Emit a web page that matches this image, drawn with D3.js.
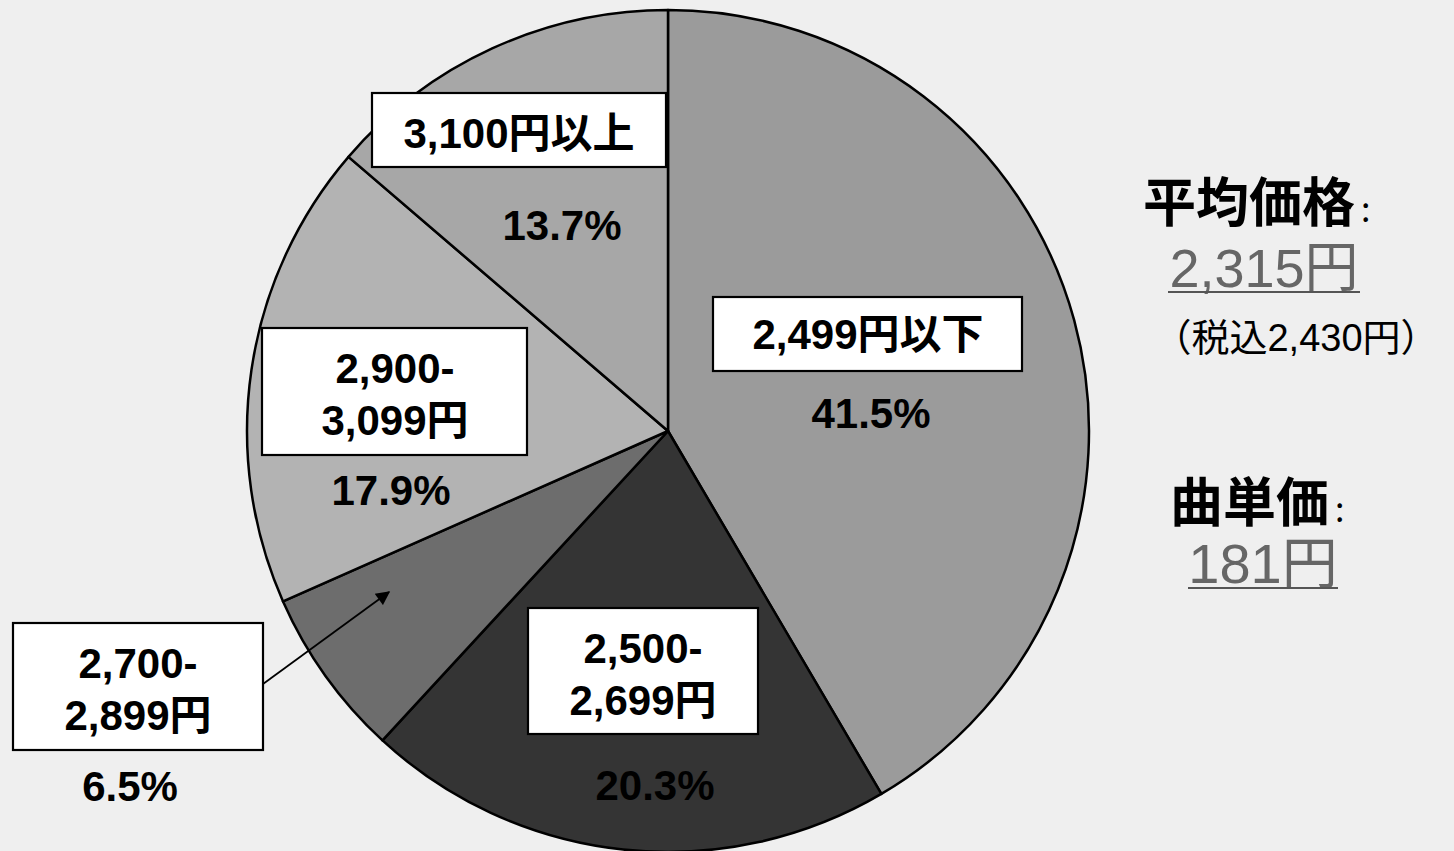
<!DOCTYPE html>
<html><head><meta charset="utf-8">
<script src="https://cdn.jsdelivr.net/npm/d3@7"></script>
<style>
html,body{margin:0;padding:0;background:#efefef;}
svg{display:block;}
</style></head>
<body>
<svg id="c" width="1454" height="851"></svg>
<script>
// ---- data ----
const categories = ["2,499円以下", "2,500-2,699円", "2,700-2,899円", "2,900-3,099円", "3,100円以上"];
const labelLines = [["2,499円以下"], ["2,500-", "2,699円"], ["2,700-", "2,899円"], ["2,900-", "3,099円"], ["3,100円以上"]];
const shares = [41.5, 20.3, 6.5, 17.9, 13.7];
const sideTitles = ["平均価格", "曲単価"];
const sideValues = ["2,315円", "181円"];
const sideNote = "（税込2,430円）";

// ---- styles / layout ----
const fills = ["#9b9b9b", "#343434", "#6d6d6d", "#b3b3b3", "#a7a7a7"];
const cx = 668, cy = 431, R = 421;
const boxes = [
  {b:[713,297,309,74], t:[868,349], pct:[871,428]},
  {b:[528,608,230,126], t:[643,663], pct:[655,800]},
  {b:[13,623,250,127], t:[138,678], pct:[130,801]},
  {b:[262,328,265,127], t:[395,383], pct:[391,505]},
  {b:[372,93,294,74], t:[519,148], pct:[562,240]}
];
const lineH = 52;
const font = "'Liberation Sans', Arial, 'Noto Sans CJK JP', sans-serif";

const svg = d3.select("#c");
svg.append("rect").attr("width",1454).attr("height",851).attr("fill","#efefef");

const pie = d3.pie().sort(null).value(d => d);
const arc = d3.arc().innerRadius(0).outerRadius(R);
const arcs = pie(shares);

const g = svg.append("g").attr("transform", `translate(${cx},${cy})`);
g.selectAll("path").data(arcs).join("path")
  .attr("d", arc)
  .attr("fill", (d,i) => fills[i])
  .attr("stroke", "#000").attr("stroke-width", 2.5).attr("stroke-linejoin","round");

// arrow for small slice
const defs = svg.append("defs");
defs.append("marker").attr("id","ah").attr("viewBox","0 0 10 10")
  .attr("refX",9).attr("refY",5).attr("markerWidth",16).attr("markerHeight",14)
  .attr("orient","auto").attr("markerUnits","userSpaceOnUse")
  .append("path").attr("d","M0,0 L10,5 L0,10 Z").attr("fill","#000");
svg.append("line").attr("x1",263).attr("y1",684).attr("x2",389).attr("y2",592)
  .attr("stroke","#000").attr("stroke-width",1.8).attr("marker-end","url(#ah)");

// label boxes
boxes.forEach((L,i) => {
  svg.append("rect").attr("x",L.b[0]).attr("y",L.b[1]).attr("width",L.b[2]).attr("height",L.b[3])
    .attr("fill","#fff").attr("stroke","#000").attr("stroke-width",2.2);
  labelLines[i].forEach((ln,j) => {
    svg.append("text").attr("x",L.t[0]).attr("y",L.t[1] + j*lineH)
      .attr("text-anchor","middle").attr("font-family",font).attr("font-weight","bold")
      .attr("font-size",42).attr("fill","#000").text(ln);
  });
  svg.append("text").attr("x",L.pct[0]).attr("y",L.pct[1])
    .attr("text-anchor","middle").attr("font-family",font).attr("font-weight","bold")
    .attr("font-size",42).attr("fill","#000").text(d3.format(".1f")(shares[i]) + "%");
});

// side panel
const cjk = "'Noto Sans CJK JP', sans-serif";
function title(x,y,t){
  const tt = svg.append("text").attr("x",x).attr("y",y).attr("font-family",cjk)
    .attr("font-weight","bold").attr("font-size",53).attr("fill","#000");
  tt.append("tspan").text(t);
  tt.append("tspan").attr("font-size",34).attr("font-weight","normal").attr("dx",6).text(":");
}
function val(x,y,t,w,fs){
  svg.append("text").attr("x",x).attr("y",y).attr("text-anchor","middle")
    .attr("font-family","'Liberation Sans', Arial, 'Noto Sans CJK JP', sans-serif")
    .attr("font-size",fs).attr("fill","#666").text(t);
  svg.append("line").attr("x1",x-w/2).attr("x2",x+w/2).attr("y1",y+5).attr("y2",y+5)
    .attr("stroke","#555").attr("stroke-width",2);
}
title(1143,222,sideTitles[0]);
val(1264,287,sideValues[0],192,54);
svg.append("text").attr("x",1296).attr("y",351).attr("text-anchor","middle")
  .attr("font-family","'Liberation Sans', Arial, 'Noto Sans CJK JP', sans-serif")
  .attr("font-size",38).attr("fill","#000").text(sideNote);
title(1170,522,sideTitles[1]);
val(1263,583,sideValues[1],150,56);
</script>
</body></html>
